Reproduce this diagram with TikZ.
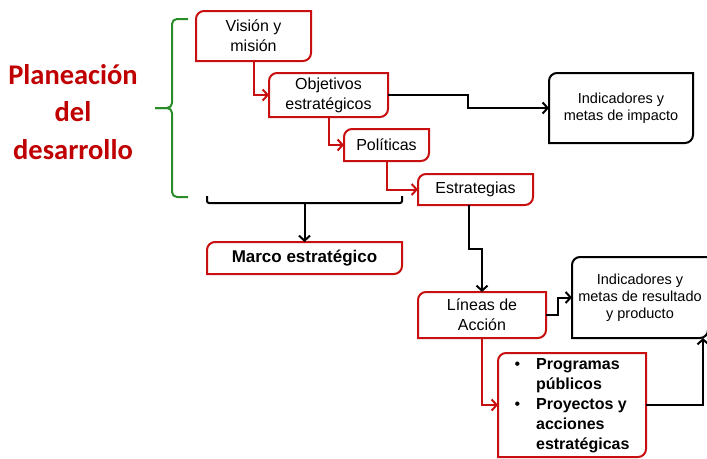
\documentclass[tikz,border=0pt]{standalone}
\usepackage{fontspec}
\setmainfont{Liberation Sans}
\newfontfamily\titlefont{Carlito}
\usetikzlibrary{arrows.meta,positioning}
\definecolor{boxred}{RGB}{200,16,16}
\definecolor{titlered}{RGB}{192,0,0}
\definecolor{bracegreen}{RGB}{40,140,40}

% frame with rounded top-left and bottom-right corners
\newcommand\diagframe[2]{%
  \draw[#2] (#1.north east) -- ([xshift=8pt]#1.north west)
    arc[start angle=90,end angle=180,radius=8pt] -- (#1.south west)
    -- ([xshift=-8pt]#1.south east)
    arc[start angle=270,end angle=360,radius=8pt] -- cycle;}

\tikzset{
  stage/.style={inner sep=0pt, outer sep=0pt, align=center,
    font=\fontsize{16}{20}\selectfont},
  goal/.style={stage, font=\fontsize{14.5}{17}\selectfont},
  redline/.style={draw=boxred, line width=2pt},
  blackline/.style={draw=black, line width=2pt},
  redarrow/.style={redline, -{Straight Barb[length=5pt,width=11pt]}},
  blackarrow/.style={blackline, -{Straight Barb[length=5pt,width=11pt]}},
}

\begin{document}
\begin{tikzpicture}[x=1pt,y=1pt]
  \useasboundingbox (0,0) rectangle (707,-458);

  \node (planeacion) at (73,-112) [align=center, text=titlered,
    font=\titlefont\bfseries\fontsize{28.5}{37.5}\selectfont]
    {Planeación\\del\\desarrollo};

  \node (vision) at (253.5,-36) [stage, minimum width=115pt, minimum height=50pt] {Visión y\\misión};
  \node (objetivos) at (328.5,-95) [stage, minimum width=119pt, minimum height=44pt] {Objetivos\\estratégicos};
  \node (politicas) at (386.5,-145) [stage, minimum width=85pt, minimum height=32pt] {Políticas};
  \node (estrategias) at (475.5,-189.5) [stage, minimum width=115pt, minimum height=31pt] {Estrategias};
  \node (impacto) at (621,-108) [goal, minimum width=144pt, minimum height=70pt] {Indicadores y\\metas de impacto};
  \node (marco) at (304.5,-258) [stage, minimum width=195pt, minimum height=32pt,
    font=\bfseries\fontsize{17}{20}\selectfont] {Marco estratégico};
  \node (lineas) at (482,-315) [stage, minimum width=128pt, minimum height=46pt] {Líneas de\\Acción};
  \node (resultado) at (640,-297.5) [goal, minimum width=136pt, minimum height=81pt] {Indicadores y\\metas de resultado\\y producto};
  \node (programas) at (572,-405) [stage, minimum width=148pt, minimum height=104pt,
    font=\bfseries\fontsize{16}{20}\selectfont]
    {\begin{tabular}{@{}l@{\hspace{16pt}}l@{}}
       \mdseries\textbullet & Programas\\
       & públicos\\
       \mdseries\textbullet & Proyectos y\\
       & acciones\\
       & estratégicas
     \end{tabular}};

  \diagframe{vision}{redline}
  \diagframe{objetivos}{redline}
  \diagframe{politicas}{redline}
  \diagframe{estrategias}{redline}
  \diagframe{marco}{redline}
  \diagframe{lineas}{redline}
  \diagframe{programas}{redline}
  \diagframe{impacto}{blackline}
  \diagframe{resultado}{blackline}

  % green brace
  \coordinate (tip) at (155,-108);
  \draw[draw=bracegreen, line width=2pt, rounded corners=5pt]
    (188,-19) -- (172,-19) -- (172,-108) -- (tip);
  \draw[draw=bracegreen, line width=2pt, rounded corners=5pt]
    (188,-197) -- (172,-197) -- (172,-108) -- (tip);

  % bracket over marco
  \coordinate (brk) at (304.5,-203);
  \draw[blackline, rounded corners=2pt] (207,-196) -- (207,-203) -- (402,-203) -- (402,-196);
  \draw[blackarrow] (brk) -- (marco.north);

  \draw[redarrow] (vision.south) |- (objetivos.west);
  \draw[redarrow] (objetivos.south) |- (politicas.west);
  \draw[redarrow] (politicas.south) |- (estrategias.west);
  \draw[redarrow] (lineas.south) |- (programas.west);

  \draw[blackarrow] (objetivos.east) -- ++(80,0) |- (impacto.west);
  \draw[blackarrow] ([xshift=-6.5pt]estrategias.south) -- ++(0,-44) -| (lineas.north);
  \draw[blackarrow] (lineas.east) -- ++(12,0) |- (resultado.west);
  \draw[blackarrow] (programas.east) -| ([xshift=63pt]resultado.south);
\end{tikzpicture}
\end{document}
